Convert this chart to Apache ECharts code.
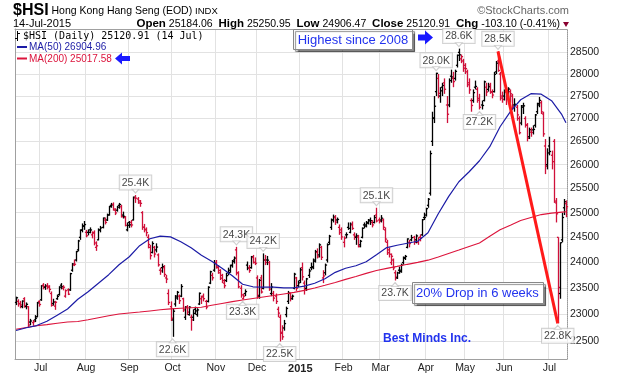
<!DOCTYPE html>
<html>
<head>
<meta charset="utf-8">
<script src="https://cdn.jsdelivr.net/npm/echarts@6/dist/echarts.min.js"></script>
<style>
  html, body { margin: 0; padding: 0; background: #fff; }
  #main { width: 619px; height: 375px; }
</style>
</head>
<body>
<div id="main"></div>
<script>
// $HSI daily bars, 13-Jun-2014 .. 14-Jul-2015

const holidays = ['2014-07-01', '2014-09-09', '2014-10-01', '2014-10-02', '2014-12-25', '2014-12-26',
  '2015-01-01', '2015-02-19', '2015-02-20', '2015-04-03', '2015-04-06', '2015-04-07',
  '2015-05-01', '2015-05-25', '2015-07-01'];

const opens = [
  23230, 23250, 23210, 23150, 23300, 23150, 23150, 22860, 22850, 22900, 22960, 23250,
  23280, 23560, 23520, 23550, 23520, 23400, 23210, 23160, 23300, 23380, 23560, 23500, 23350, 23470, 23470, 23850, 23950, 24050, 24250, 24500, 24650, 24720,
  24600, 24600, 24650, 24550, 24600, 24300, 24450, 24650, 24700, 24850, 24850, 24950, 25150, 25170, 25050, 25050, 25150, 25120, 24950, 24900, 24650,
  24800, 24800, 24850, 25300, 25280, 25200, 25000, 24700, 24650, 24500, 24300, 24200, 24300, 24250, 24150, 23850, 23900, 23900, 23700, 23400, 23150,
  22900, 23200, 23350, 23350, 23350, 23300, 22950, 23150, 23000, 22950, 22950, 23100, 23000, 23200, 23300, 23350, 23250, 23250, 23600, 23750, 23850,
  24000, 23900, 23800, 23750, 23600, 23650, 23800, 23850, 23950, 24050, 24250, 23800, 23500, 23300, 23400, 23950, 23900, 23900, 24100, 24000,
  23700, 23350, 23700, 23500, 24050, 24050, 24000, 23400, 23400, 23350, 23100, 22950, 22650, 22750, 23000, 23250, 23400, 23300, 23500, 23700, 23550,
  23650, 23900, 23600, 23500, 23750, 23900, 23900, 24050, 24200, 24150, 24300, 23700, 23800, 24050, 24400, 24700, 24850, 24900, 24850, 24700, 24650,
  24400, 24550, 24700, 24600, 24750, 24550, 24500, 24500, 24350, 24500, 24750, 24750, 24800, 24850, 24800, 24800, 24950, 24850,
  24850, 24850, 24650, 24400, 24250, 24000, 24050, 23800, 23700, 23850, 23850, 24000, 24100, 24300, 24400, 24450, 24500, 24450, 24400, 24500, 24550, 24900,
  24950, 25150, 25400, 26500, 27000, 27600, 27900, 27500, 27700, 27800, 27300, 27300, 27950, 27900, 27900, 28200, 28500, 28350, 28300,
  28200, 28050, 27800, 27400, 27400, 27700, 27650, 27450, 27300, 27400, 27700, 27650, 27750, 27600, 27600, 28050, 28300, 28000, 27500,
  27500, 27600, 27500, 27600, 27500, 27300, 27250, 27000, 26900, 27250, 27000, 26850, 26600, 26700, 26750, 26850, 27150, 27300, 27350, 27100, 26400, 26000,
  26400, 26200, 26500, 25200, 24500, 23400, 24450, 25100, 25184
];
const highs = [
  23340, 23290, 23260, 23270, 23330, 23230, 23160, 22920, 22900, 22990, 23240, 23270,
  23560, 23600, 23580, 23600, 23560, 23440, 23300, 23260, 23380, 23540, 23600, 23560, 23480, 23500, 23800, 23990, 24060, 24230, 24450, 24660, 24780, 24830,
  24650, 24660, 24700, 24620, 24640, 24420, 24680, 24730, 24900, 24900, 24980, 25140, 25200, 25210, 25090, 25140, 25200, 25160, 25020, 24930, 24800,
  24830, 24850, 25330, 25362, 25320, 25260, 25030, 24770, 24700, 24560, 24350, 24420, 24330, 24380, 24180, 23900, 23980, 23950, 23760, 23480, 23250,
  23120, 23370, 23450, 23380, 23580, 23320, 23160, 23180, 23160, 23000, 23100, 23150, 23120, 23420, 23360, 23400, 23280, 23540, 23840, 23800, 24050,
  24050, 23950, 23870, 23780, 23680, 23800, 23900, 23960, 24050, 24120, 24310, 23830, 23560, 23400, 23480, 24020, 23950, 24130, 24150, 24100,
  23750, 23680, 23760, 24180, 24150, 24130, 24030, 23600, 23450, 23400, 23150, 23000, 22800, 22900, 23150, 23450, 23420, 23380, 23800, 23720, 23650,
  23900, 24000, 23650, 23700, 23880, 24000, 24080, 24250, 24280, 24380, 24330, 23850, 23980, 24380, 24550, 24880, 24960, 24950, 24900, 24760, 24700,
  24520, 24600, 24800, 24800, 24820, 24600, 24580, 24550, 24450, 24700, 24800, 24830, 24870, 24900, 24850, 24950, 25100, 24900,
  24950, 24880, 24700, 24450, 24300, 24180, 24080, 23850, 23820, 23920, 23980, 24120, 24150, 24480, 24450, 24550, 24530, 24560, 24500, 24560, 24870, 25000,
  25100, 25300, 26300, 27150, 27500, 28030, 28000, 27700, 27800, 27900, 27500, 27900, 28100, 28050, 28100, 28450, 28588, 28450, 28350,
  28250, 28100, 27900, 27450, 27650, 27850, 27700, 27550, 27400, 27850, 27800, 27800, 27800, 27650, 28050, 28300, 28524, 28050, 27600,
  27650, 27650, 27700, 27650, 27550, 27450, 27300, 27050, 27300, 27350, 27050, 26900, 26800, 26800, 26850, 27100, 27350, 27480, 27400, 27150, 26550, 26350,
  26600, 26300, 26550, 25300, 24500, 24400, 25000, 25280, 25251
];
const lows = [
  23180, 23150, 23120, 23120, 23130, 23100, 22760, 22800, 22790, 22860, 22950, 23150,
  23260, 23480, 23470, 23480, 23420, 23150, 23170, 23090, 23280, 23360, 23480, 23460, 23320, 23370, 23450, 23820, 23930, 24020, 24220, 24450, 24600, 24650,
  24500, 24540, 24580, 24480, 24340, 24230, 24440, 24600, 24680, 24760, 24830, 24940, 25100, 25040, 24950, 25020, 25080, 24900, 24880, 24720, 24620,
  24690, 24700, 24840, 25200, 25180, 25120, 24650, 24600, 24520, 24280, 24060, 24180, 24100, 24200, 23920, 23760, 23800, 23720, 23600, 23180, 22880,
  22586, 23150, 23280, 23200, 23330, 23050, 22900, 22990, 22980, 22700, 22880, 23000, 22960, 23180, 23200, 23250, 23100, 23230, 23580, 23650, 23820,
  23880, 23780, 23660, 23600, 23500, 23620, 23750, 23800, 23900, 23980, 23750, 23500, 23320, 23290, 23350, 23850, 23800, 23880, 23980, 23950,
  23300, 23300, 23400, 23480, 23950, 23950, 23450, 23350, 23250, 23200, 22950, 22500, 22530, 22700, 22950, 23200, 23250, 23280, 23480, 23450, 23520,
  23600, 23650, 23380, 23450, 23700, 23850, 23870, 24000, 24080, 24100, 24050, 23600, 23750, 24000, 24350, 24650, 24800, 24750, 24780, 24550, 24450,
  24300, 24480, 24650, 24580, 24650, 24450, 24350, 24300, 24300, 24480, 24680, 24700, 24760, 24750, 24700, 24780, 24800, 24780,
  24800, 24650, 24400, 24150, 24100, 23950, 23850, 23650, 23680, 23780, 23800, 23960, 24050, 24280, 24300, 24420, 24350, 24380, 24350, 24420, 24530, 24850,
  24920, 25100, 25350, 26400, 26900, 27500, 27450, 27350, 27500, 27550, 26900, 27250, 27800, 27700, 27850, 28150, 28300, 28250, 28050,
  28000, 27700, 27550, 27150, 27350, 27650, 27350, 27200, 27200, 27380, 27500, 27600, 27550, 27450, 27580, 28000, 28050, 27400, 27350,
  27400, 27300, 27450, 27350, 27200, 27150, 26950, 26650, 26850, 27100, 26800, 26500, 26550, 26600, 26650, 26800, 27100, 27250, 27100, 26600, 25800, 25900,
  26200, 25900, 25200, 24800, 22836, 23300, 24400, 24950, 24906
];
const closes = [
  23319, 23203, 23181, 23256, 23167, 23194, 22804, 22880, 22866, 22932, 23221, 23191,
  23549, 23531, 23546, 23541, 23479, 23176, 23238, 23233, 23346, 23523, 23530, 23520, 23454, 23387, 23783, 23971, 23966, 24216, 24428, 24641, 24733, 24757,
  24532, 24600, 24648, 24584, 24387, 24331, 24646, 24689, 24890, 24801, 24954, 25122, 25159, 25073, 24994, 25112, 25166, 24918, 24925, 24741, 24742,
  24752, 24749, 25318, 25297, 25240, 25190, 24705, 24663, 24595, 24356, 24136, 24376, 24168, 24306, 23955, 23837, 23921, 23768, 23678, 23229, 22932,
  23064, 23315, 23423, 23263, 23534, 23089, 23143, 23047, 23140, 22900, 23023, 23070, 23088, 23404, 23333, 23302, 23143, 23520, 23820, 23703, 23998,
  23915, 23846, 23695, 23649, 23550, 23744, 23808, 23938, 24019, 24088, 23797, 23529, 23373, 23349, 23437, 23893, 23843, 24112, 24004, 23987,
  23367, 23654, 23429, 24049, 24002, 24047, 23485, 23524, 23312, 23249, 23028, 22670, 22586, 22832, 23116, 23408, 23333, 23349, 23773, 23501, 23605,
  23857, 23721, 23485, 23681, 23835, 23919, 24026, 24216, 24112, 24350, 24103, 23738, 23951, 24353, 24522, 24850, 24909, 24807, 24861, 24596, 24507,
  24484, 24554, 24680, 24765, 24679, 24521, 24528, 24315, 24422, 24682, 24726, 24784, 24832, 24836, 24750, 24900, 24830, 24823,
  24887, 24702, 24465, 24193, 24164, 24123, 23896, 23717, 23797, 23823, 23949, 24082, 24120, 24468, 24375, 24494, 24399, 24528, 24497, 24486, 24855, 24901,
  25082, 25276, 26236, 27015, 27272, 28016, 27561, 27618, 27739, 27653, 27094, 27850, 27933, 27827, 28061, 28433, 28443, 28400, 28133,
  28123, 27755, 27640, 27289, 27577, 27718, 27407, 27250, 27289, 27822, 27591, 27710, 27585, 27524, 27992, 28249, 28081, 27455, 27424,
  27597, 27466, 27658, 27551, 27260, 27316, 27080, 26687, 27280, 27281, 26861, 26566, 26753, 26694, 26760, 27080, 27333, 27404, 27146, 26663, 25967, 26250,
  26282, 26064, 25237, 24976, 23517, 24393, 24901, 25224, 25121
];

const maDays = [0, 5, 10, 15, 20, 25, 30, 35, 40, 45, 50, 55, 60, 65, 70, 75, 80, 85, 90, 95,
  100, 105, 110, 115, 120, 125, 130, 135, 140, 145, 150, 155, 160, 165, 170, 175, 180, 185, 190, 195,
  200, 205, 210, 215, 220, 225, 230, 235, 240, 245, 250, 255, 260, 265, 267];
const ma50 = [22703, 22754, 22795, 22874, 22986, 23105, 23290, 23435, 23598, 23763, 23957, 24114, 24333, 24471, 24524, 24510, 24413, 24291, 24142, 24025,
  23889, 23741, 23578, 23529, 23523, 23523, 23510, 23510, 23541, 23598, 23684, 23809, 23889, 23938, 24015, 24153, 24296, 24342, 24382, 24422,
  24593, 24978, 25328, 25639, 25850, 26083, 26385, 26819, 27152, 27417, 27554, 27543, 27397, 27084, 26905];
const ma200 = [22726, 22760, 22791, 22812, 22837, 22860, 22871, 22902, 22940, 22977, 23011, 23030, 23048, 23069, 23090, 23108, 23120, 23129, 23138, 23176,
  23210, 23245, 23275, 23305, 23333, 23362, 23392, 23422, 23460, 23507, 23559, 23613, 23672, 23729, 23788, 23843, 23886, 23925, 23965, 24004,
  24047, 24109, 24179, 24247, 24319, 24387, 24522, 24652, 24744, 24841, 24901, 24960, 24989, 25011, 25018];

const yTicks = [22500, 23000, 23500, 24000, 24500, 25000, 25500, 26000, 26500, 27000, 27500, 28000, 28500];
const monthNames = ['Jan', 'Feb', 'Mar', 'Apr', 'May', 'Jun', 'Jul', 'Aug', 'Sep', 'Oct', 'Nov', 'Dec'];

// boxed high / low callouts
const callouts = [
  ['2014-09-04', 25362, '25.4K', 'top'],
  ['2014-10-03', 22586, '22.6K', 'bottom'],
  ['2014-11-17', 24310, '24.3K', 'top'],
  ['2014-11-20', 23290, '23.3K', 'bottom'],
  ['2014-12-04', 24180, '24.2K', 'top'],
  ['2014-12-16', 22500, '22.5K', 'bottom'],
  ['2015-02-26', 25100, '25.1K', 'top'],
  ['2015-03-11', 23650, '23.7K', 'bottom'],
  ['2015-04-13', 28030, '28.0K', 'top'],
  ['2015-04-28', 28588, '28.6K', 'top'],
  ['2015-05-13', 27200, '27.2K', 'bottom'],
  ['2015-05-27', 28524, '28.5K', 'top'],
  ['2015-07-08', 22836, '22.8K', 'bottom']
];
const dropLine = [['2015-05-27', 28524], ['2015-07-08', 22836]];

const days = [];
for (let t = Date.UTC(2014, 5, 13); t <= Date.UTC(2015, 6, 14); t += 86400000) {
  const d = new Date(t);
  const s = d.toISOString().slice(0, 10);
  if (d.getUTCDay() === 0 || d.getUTCDay() === 6 || holidays.includes(s)) continue;
  days.push(s);
}
const monthStart = days.map((d, i) => i > 0 && d.slice(5, 7) !== days[i - 1].slice(5, 7));

const FONT = '"Liberation Sans", Arial, sans-serif';
const BLUE = '#2233ee';
const RED_BAR = '#d0103a';

const chart = echarts.init(document.getElementById('main'));

function renderBar(params, api) {
  const i = api.value(0);
  const top = api.coord([i, api.value(4)]);
  const x = Math.round(top[0]) + 0.5;
  const yL = api.coord([i, api.value(3)])[1];
  const yO = api.coord([i, api.value(1)])[1];
  const yC = api.coord([i, api.value(2)])[1];
  const prev = i > 0 ? closes[i - 1] : opens[i];
  const color = closes[i] >= prev ? '#000' : RED_BAR;
  const st = { stroke: color, lineWidth: 1.3 };
  return {
    type: 'group',
    children: [
      { type: 'line', shape: { x1: x, y1: top[1], x2: x, y2: yL }, style: st },
      { type: 'line', shape: { x1: x - 1.6, y1: yO, x2: x, y2: yO }, style: st },
      { type: 'line', shape: { x1: x, y1: yC, x2: x + 1.6, y2: yC }, style: st }
    ]
  };
}

const txt = (x, y, text, font, fill, extra) => ({
  type: 'text', x: x, y: y, z: 100,
  style: Object.assign({ text: text, font: font, fill: fill || '#000', verticalAlign: 'middle', textVerticalAlign: 'middle' }, extra || {})
});

const option = {
  animation: false,
  backgroundColor: '#fff',
  textStyle: { fontFamily: FONT },
  grid: { left: 15, right: 52, top: 29, bottom: 16, show: false },
  xAxis: [{
    type: 'category',
    data: days,
    boundaryGap: true,
    axisLine: { show: true, lineStyle: { color: '#a0a0a0' } },
    axisTick: { show: false },
    axisLabel: {
      interval: (i) => monthStart[i],
      margin: 4,
      fontSize: 10.5,
      color: '#222',
      formatter: (v) => {
        const m = Number(v.slice(5, 7));
        return m === 1 ? '{b|' + v.slice(0, 4) + '}' : monthNames[m - 1];
      },
      rich: { b: { fontWeight: 'bold', fontSize: 11, color: '#222' } }
    },
    splitLine: { show: true, interval: (i) => monthStart[i], lineStyle: { color: '#e2e2e2' } }
  }, {
    type: 'category',
    data: days,
    position: 'top',
    axisLine: { show: true, lineStyle: { color: '#a0a0a0' } },
    axisTick: { show: false },
    axisLabel: { show: false },
    splitLine: { show: false }
  }],
  yAxis: [{
    type: 'log',
    logBase: 10,
    position: 'right',
    min: 22180,
    max: 29050,
    axisLine: { show: true, lineStyle: { color: '#999', type: 'dotted' } },
    axisTick: { show: false, customValues: yTicks },
    axisLabel: {
      customValues: yTicks,
      margin: 3,
      fontSize: 10.5,
      color: '#222',
      formatter: (v) => String(Math.round(v))
    },
    splitLine: { show: true, lineStyle: { color: '#e2e2e2' } }
  }, {
    type: 'value',
    position: 'left',
    min: 0,
    max: 1,
    axisLine: { show: true, lineStyle: { color: '#a0a0a0' } },
    axisTick: { show: false },
    axisLabel: { show: false },
    splitLine: { show: false }
  }],
  series: [
    {
      type: 'line',
      name: 'MA(200)',
      data: maDays.map((d, k) => [d, ma200[k]]),
      showSymbol: false,
      lineStyle: { color: '#dc143c', width: 1.1 },
      z: 3
    },
    {
      type: 'custom',
      name: '$HSI',
      data: days.map((d, i) => [i, opens[i], closes[i], lows[i], highs[i]]),
      encode: { x: 0, y: [1, 2, 3, 4] },
      renderItem: renderBar,
      z: 2
    },
    {
      type: 'line',
      name: 'MA(50)',
      data: maDays.map((d, k) => [d, ma50[k]]),
      showSymbol: false,
      lineStyle: { color: '#1c1ca6', width: 1.2 },
      z: 4
    },
    {
      type: 'line',
      name: 'drop',
      data: dropLine,
      showSymbol: false,
      lineStyle: { color: '#ff1a1a', width: 3 },
      z: 5
    },
    {
      // small pointers under / over the callout boxes
      type: 'scatter',
      name: 'pointers',
      data: callouts.map(c => ({
        value: [c[0], c[1]],
        symbolRotate: c[3] === 'top' ? 180 : 0,
        symbolOffset: [0, c[3] === 'top' ? -4 : 4]
      })),
      symbol: 'triangle',
      symbolSize: [7, 4],
      itemStyle: { color: '#fff', borderColor: '#c4c4c4', borderWidth: 1 },
      silent: true,
      z: 7
    },
    {
      type: 'scatter',
      name: 'callouts',
      data: callouts.map(c => ({ value: [c[0], c[1]], name: c[2], label: { position: c[3] } })),
      symbolSize: 1,
      itemStyle: { color: 'rgba(0,0,0,0)' },
      silent: true,
      z: 6,
      label: {
        show: true,
        formatter: (p) => p.name,
        distance: 5,
        fontSize: 10.5,
        color: '#111',
        backgroundColor: '#fff',
        borderColor: '#c4c4c4',
        borderWidth: 1,
        padding: [2, 2, 1, 2]
      }
    }
  ],
  graphic: [
    // header
    {
      type: 'text', x: 13, y: 11, z: 100,
      style: {
        text: '{t|$HSI} Hong Kong Hang Seng (EOD) {s|INDX}',
        font: '10.5px ' + FONT,
        fill: '#000',
        verticalAlign: 'middle', textVerticalAlign: 'middle',
        rich: {
          t: { fontWeight: 'bold', fontSize: 16, fontFamily: FONT, fill: '#000' },
          s: { fontSize: 9.5, fontFamily: FONT, fill: '#000' }
        }
      }
    },
    txt(569, 11, '\u00A9StockCharts.com', '11px ' + FONT, '#666', { align: 'right', textAlign: 'right' }),
    txt(13, 24, '14-Jul-2015', '11px ' + FONT),
    {
      type: 'text', x: 560, y: 24, z: 100,
      style: {
        text: '{b|Open} 25184.06  {b|High} 25250.95  {b|Low} 24906.47  {b|Close} 25120.91  {b|Chg} -103.10 (-0.41%)',
        font: '10.5px ' + FONT,
        fill: '#000',
        align: 'right', textAlign: 'right',
        verticalAlign: 'middle', textVerticalAlign: 'middle',
        rich: { b: { fontWeight: 'bold', fontSize: 11.5, fontFamily: FONT, fill: '#000' } }
      }
    },
    { type: 'polygon', z: 100, shape: { points: [[563, 22], [569, 22], [566, 27]] }, style: { fill: '#8a0030' } },

    // legend in the plot
    { type: 'line', z: 100, shape: { x1: 17.5, y1: 31, x2: 17.5, y2: 41 }, style: { stroke: '#000', lineWidth: 1 } },
    { type: 'line', z: 100, shape: { x1: 15, y1: 38.5, x2: 17.5, y2: 38.5 }, style: { stroke: '#000', lineWidth: 1 } },
    { type: 'line', z: 100, shape: { x1: 17.5, y1: 33.5, x2: 20, y2: 33.5 }, style: { stroke: '#000', lineWidth: 1 } },
    txt(23, 36, '$HSI (Daily) 25120.91 (14 Jul)', '10px "DejaVu Sans Mono", monospace'),
    { type: 'rect', z: 100, shape: { x: 17, y: 46, width: 10, height: 2 }, style: { fill: '#1c1ca6' } },
    txt(29, 47.5, 'MA(50) 26904.96', '10px ' + FONT, '#1c1ca6'),
    { type: 'rect', z: 100, shape: { x: 17, y: 57.5, width: 10, height: 2 }, style: { fill: '#dc143c' } },
    txt(29, 59, 'MA(200) 25017.58', '10px ' + FONT, '#dc143c'),
    { type: 'polygon', z: 100, shape: { points: [[115, 58.5], [122, 52.5], [122, 56], [130, 56], [130, 61], [122, 61], [122, 64.5]] }, style: { fill: '#1a1aff' } },

    // "Highest since 2008"
    { type: 'rect', z: 100, shape: { x: 293.5, y: 29.5, width: 119, height: 20 },
      style: { fill: '#fff', stroke: '#888', lineWidth: 1, shadowColor: 'rgba(0,0,0,0.45)', shadowOffsetX: 2, shadowOffsetY: 2, shadowBlur: 1 } },
    txt(353, 40, 'Highest since 2008', '13px ' + FONT, BLUE, { align: 'center', textAlign: 'center' }),
    { type: 'polygon', z: 100, shape: { points: [[418, 34.5], [425, 34.5], [425, 30.5], [433, 37.5], [425, 44.5], [425, 40.5], [418, 40.5]] }, style: { fill: '#1a1aff' } },

    // "20% Drop in 6 weeks"
    { type: 'rect', z: 100, shape: { x: 412.5, y: 282.5, width: 131, height: 21 },
      style: { fill: '#fff', stroke: '#888', lineWidth: 1, shadowColor: 'rgba(0,0,0,0.45)', shadowOffsetX: 2, shadowOffsetY: 2, shadowBlur: 1 } },
    txt(416, 293.5, '20% Drop in 6 weeks', '13px ' + FONT, BLUE),

    txt(383, 339, 'Best Minds Inc.', 'bold 12px ' + FONT, BLUE)
  ]
};

chart.setOption(option);
</script>
</body>
</html>
